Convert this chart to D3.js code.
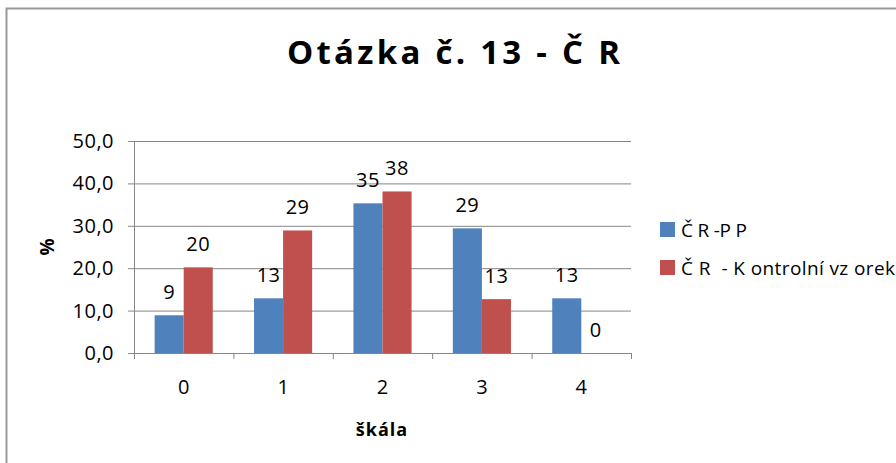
<!DOCTYPE html>
<html>
<head>
<meta charset="utf-8">
<script src="https://cdn.jsdelivr.net/npm/d3@7"></script>
<style>
  body { margin: 0; background: #fff; }
  text { font-family: "Open Sans", sans-serif; fill: #000; }
</style>
</head>
<body>
<script>
// Chart data
var categories = ["0", "1", "2", "3", "4"];
var seriesNames = ["Č R -P P", "Č R  - K ontrolní vz orek"];
var ppValues = [8.9, 12.9, 35.3, 29.4, 12.9];
var kontrolValues = [20.2, 28.9, 38.1, 12.7, 0];
var yTicks = [0, 10, 20, 30, 40, 50];
var colors = ["#4F81BD", "#C0504D"];

var W = 896, H = 463;
var plot = {left: 134, right: 631, top: 141, bottom: 353};

var svg = d3.select("body").append("svg")
  .attr("width", W)
  .attr("height", H);

// Outer border
svg.append("rect")
  .attr("x", 6.5).attr("y", 8.5)
  .attr("width", W).attr("height", H)
  .attr("fill", "#fff")
  .attr("stroke", "#999").attr("stroke-width", 2);

// Title
svg.append("text")
  .attr("x", 287).attr("y", 64)
  .attr("textLength", 333)
  .attr("lengthAdjust", "spacing")
  .style("font-size", "33px")
  .style("font-weight", "bold")
  .text("Otázka č. 13 - Č R");

// Scales
var x = d3.scaleBand()
  .domain(categories)
  .range([plot.left, plot.right])
  .paddingInner(0)
  .paddingOuter(0);

var x1 = d3.scaleBand()
  .domain([0, 1])
  .range([0, x.bandwidth()])
  .paddingInner(0)
  .paddingOuter(0.71);

var y = d3.scaleLinear()
  .domain([0, 50])
  .range([plot.bottom, plot.top]);

var fmt = function (d) { return d3.format(".1f")(d).replace(".", ","); };

// Gridlines
svg.append("g")
  .attr("transform", "translate(" + plot.left + ",0)")
  .call(d3.axisLeft(y).tickValues(yTicks).tickSize(-(plot.right - plot.left)).tickFormat(""))
  .call(function (g) { g.select(".domain").remove(); })
  .selectAll("line").attr("stroke", "#868686");

// Y axis
var yAxis = svg.append("g")
  .attr("transform", "translate(" + plot.left + ",0)")
  .call(d3.axisLeft(y).tickValues(yTicks).tickSize(6).tickPadding(14).tickFormat(fmt));
yAxis.select(".domain").attr("stroke", "#868686");
yAxis.selectAll("line").attr("stroke", "#868686");
yAxis.selectAll("text")
  .style("font-size", "20px")
  .style("letter-spacing", "0.5px")
  .style("font-family", "'Open Sans', sans-serif");

// X axis: boundary ticks
var xEdge = d3.scaleLinear().domain([0, categories.length]).range([plot.left, plot.right]);
var xAxis = svg.append("g")
  .attr("transform", "translate(0," + plot.bottom + ")")
  .call(d3.axisBottom(xEdge).tickValues(d3.range(categories.length + 1)).tickSize(6).tickFormat(""));
xAxis.select(".domain").attr("stroke", "#868686");
xAxis.selectAll("line").attr("stroke", "#868686");

// X axis labels
var xLab = svg.append("g")
  .attr("transform", "translate(0," + plot.bottom + ")")
  .call(d3.axisBottom(x).tickSize(0).tickPadding(27));
xLab.select(".domain").remove();
xLab.selectAll("text")
  .style("font-size", "20px")
  .style("font-family", "'Open Sans', sans-serif");

// Bars
var series = [ppValues, kontrolValues];
series.forEach(function (vals, si) {
  var g = svg.append("g");
  g.selectAll("rect")
    .data(vals)
    .enter().append("rect")
    .attr("x", function (d, i) { return x(categories[i]) + x1(si); })
    .attr("y", function (d) { return y(d); })
    .attr("width", x1.bandwidth())
    .attr("height", function (d) { return plot.bottom - y(d); })
    .attr("fill", colors[si]);

  g.selectAll("text")
    .data(vals)
    .enter().append("text")
    .attr("x", function (d, i) { return x(categories[i]) + x1(si) + x1.bandwidth() / 2; })
    .attr("y", function (d) { return y(d) - 16; })
    .attr("text-anchor", "middle")
    .style("font-size", "20px")
    .style("letter-spacing", "0.5px")
    .text(function (d) { return Math.round(d); });
});

// Axis titles
svg.append("text")
  .attr("transform", "translate(54,247) rotate(-90)")
  .attr("text-anchor", "middle")
  .style("font-size", "19px")
  .style("font-weight", "bold")
  .text("%");

svg.append("text")
  .attr("x", 382).attr("y", 436)
  .attr("text-anchor", "middle")
  .style("font-size", "18px")
  .style("font-weight", "bold")
  .style("letter-spacing", "1px")
  .text("škála");

// Legend
var legendTop = [222, 260];
var legendWidth = [66, 214];
seriesNames.forEach(function (name, i) {
  svg.append("rect")
    .attr("x", 660).attr("y", legendTop[i])
    .attr("width", 15).attr("height", 15)
    .attr("fill", colors[i]);
  svg.append("text")
    .attr("x", 681).attr("y", legendTop[i] + 15)
    .attr("textLength", legendWidth[i])
    .attr("lengthAdjust", "spacing")
    .style("font-size", "19px")
    .style("white-space", "pre")
    .text(name);
});
</script>
</body>
</html>
